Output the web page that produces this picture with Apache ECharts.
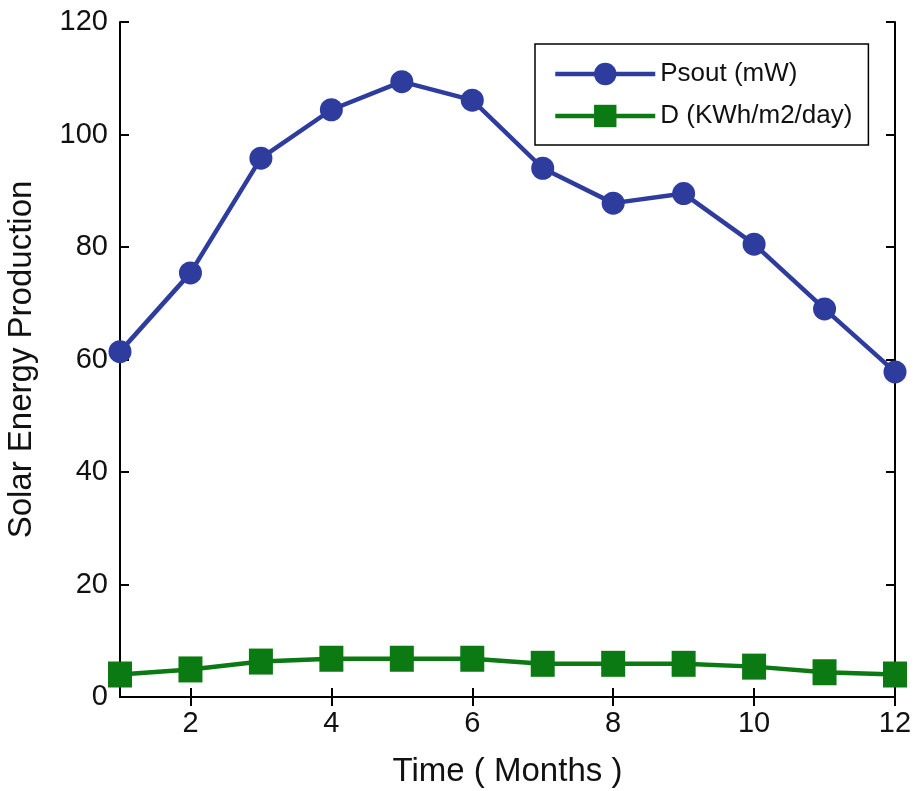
<!DOCTYPE html>
<html>
<head>
<meta charset="utf-8">
<script src="https://cdn.jsdelivr.net/npm/echarts@6/dist/echarts.min.js"></script>
<style>
html,body{margin:0;padding:0;background:#fff;}
#chart{width:919px;height:791px;}
</style>
</head>
<body>
<div id="chart"></div>
<script>
var months = [1,2,3,4,5,6,7,8,9,10,11,12];
var psout = [61.4, 75.4, 95.8, 104.4, 109.4, 106.1, 94.0, 87.8, 89.5, 80.5, 69.0, 57.8];
var dVals = [4.0, 4.9, 6.3, 6.8, 6.8, 6.8, 5.9, 5.9, 5.9, 5.4, 4.4, 4.0];
var xTicks = [2,4,6,8,10,12];
var seriesNames = ['Psout (mW)', 'D (KWh/m2/day)'];

var FONT = '"Liberation Sans", Arial, sans-serif';
var chart = echarts.init(document.getElementById('chart'), null, {renderer:'canvas'});

function pairs(v){ return months.map(function(m,i){ return [m, v[i]]; }); }

var axisLine = {show:true, lineStyle:{color:'#000', width:2}};
var option = {
  animation:false,
  backgroundColor:'#fff',
  grid:{left:120, right:24, top:22, bottom:94, show:false, containLabel:false, outerBoundsMode:'none'},
  legend:{
    left:535, top:44, orient:'vertical',
    padding:[15,16,14,18],
    borderColor:'#000', borderWidth:1.5, backgroundColor:'#fff',
    itemWidth:100, itemHeight:28, itemGap:12,
    lineStyle:{width:4.5},
    textStyle:{fontFamily:FONT, fontSize:26, color:'#111', lineHeight:30},
    data:seriesNames
  },
  xAxis:[{
    type:'value', min:1, max:12, position:'bottom',
    axisLine:axisLine,
    axisTick:{show:true, inside:true, length:9, lineStyle:{color:'#000', width:2}, customValues:xTicks},
    axisLabel:{fontFamily:FONT, fontSize:29, color:'#111', margin:12, customValues:xTicks},
    splitLine:{show:false},
    name:'Time ( Months )', nameLocation:'middle', nameGap:58,
    nameTextStyle:{fontFamily:FONT, fontSize:33, color:'#111'}
  },{
    type:'value', min:1, max:12, position:'top',
    axisLine:axisLine,
    axisTick:{show:true, inside:true, length:9, lineStyle:{color:'#000', width:2}, customValues:xTicks},
    axisLabel:{show:false},
    splitLine:{show:false}
  }],
  yAxis:[{
    type:'value', min:0, max:120, interval:20, position:'left',
    axisLine:axisLine,
    axisTick:{show:true, inside:true, length:9, lineStyle:{color:'#000', width:2}},
    axisLabel:{fontFamily:FONT, fontSize:29, color:'#111', margin:12},
    splitLine:{show:false},
    name:'Solar Energy Production', nameLocation:'middle', nameGap:82, nameRotate:90,
    nameTextStyle:{fontFamily:FONT, fontSize:33, color:'#111'}
  },{
    type:'value', min:0, max:120, interval:20, position:'right',
    axisLine:axisLine,
    axisTick:{show:true, inside:true, length:9, lineStyle:{color:'#000', width:2}},
    axisLabel:{show:false},
    splitLine:{show:false}
  }],
  series:[{
    name:seriesNames[0], type:'line', data:pairs(psout),
    xAxisIndex:0, yAxisIndex:0,
    symbol:'circle', symbolSize:23,
    lineStyle:{color:'#2E3C9E', width:4.5},
    itemStyle:{color:'#2E3C9E'},
    z:3
  },{
    name:seriesNames[1], type:'line', data:pairs(dVals),
    xAxisIndex:0, yAxisIndex:0,
    symbol:'rect', symbolSize:[24,26],
    lineStyle:{color:'#0B7A12', width:4.5},
    itemStyle:{color:'#0B7A12'},
    z:3
  }]
};
chart.setOption(option);
</script>
</body>
</html>
